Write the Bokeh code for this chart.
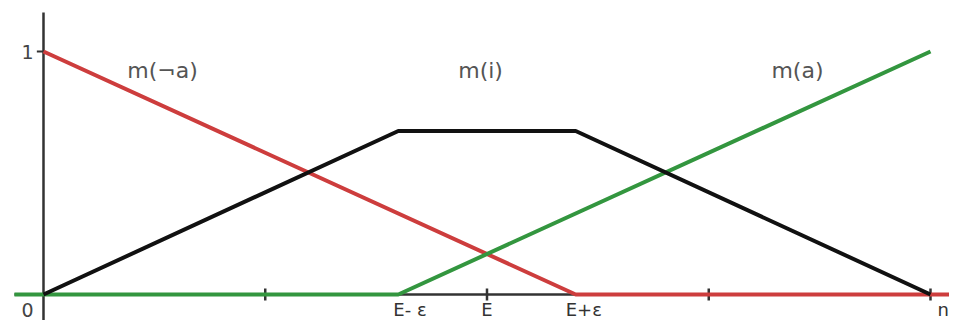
import math
from bokeh.plotting import figure
from bokeh.models import Range1d, ColumnDataSource
from bokeh.core.properties import value
from bokeh.embed import file_html
from bokeh.resources import INLINE

# ---- data ----
n = 4.0
E = 2.0
eps = 0.4
h = 0.673                      # plateau of m(i)
tick_values = [1, 2, 3, 4]
tick_labels = ["E- \u03b5", "E", "E+\u03b5", "n"]
tick_label_x = [E - eps, E, E + eps, n]

m_not_a_x = [0, E + eps, 4.3]
m_not_a_y = [1, 0, 0]
m_i_x = [0, E - eps, E + eps, n]
m_i_y = [0, h, h, 0]
m_a_x = [-0.131, E - eps, n]
m_a_y = [0, 0, 1]

series_names = ["m(\u00aca)", "m(i)", "m(a)"]

RED = "#cd3d3d"
GREEN = "#33963f"
BLACK = "#111111"
AXIS = "#333333"
FONT = "DejaVu Sans"

p = figure(width=949, height=320, output_backend="svg", toolbar_location=None,
           x_range=Range1d(-0.1939, 4.0857), y_range=Range1d(-0.107, 1.2099),
           min_border=0, outline_line_color=None)
p.axis.visible = False
p.grid.visible = False

# axes
p.segment(x0=[-0.131, 0], y0=[0, -0.2], x1=[4.3, 0], y1=[0, 1.1605],
          line_color=AXIS, line_width=2.5)
p.scatter(x=tick_values, y=[0] * len(tick_values), marker="dash", angle=math.pi / 2,
          size=12, line_color=AXIS, line_width=2.5)
p.segment(x0=[-0.03], y0=[1], x1=[0], y1=[1], line_color=AXIS, line_width=2)

# series
p.line(m_not_a_x, m_not_a_y, line_color=RED, line_width=4)
p.line(m_a_x, m_a_y, line_color=GREEN, line_width=4)
p.line(m_i_x, m_i_y, line_color=BLACK, line_width=4)

# tick labels
src = ColumnDataSource(dict(x=tick_label_x, y=[0] * 4, t=tick_labels,
                            xo=[-5, 0, -10, 7], al=["left", "center", "left", "left"]))
p.text(x="x", y="y", text="t", source=src, x_offset="xo", y_offset=15,
       text_align="al", text_baseline="middle", text_font=value(FONT),
       text_font_size="18px", text_color="#333333")
p.text(x=[0, 0], y=[1, 0], text=["1", "0"], x_offset=[-16, -16], y_offset=[0, 16],
       text_align="center", text_baseline="middle", text_font=value(FONT),
       text_font_size="19px", text_color="#444444")

# series labels
p.text(x=[0.537, 1.971, 3.40], y=[0.922] * 3, text=series_names,
       text_align="center", text_baseline="middle", text_font=value(FONT),
       text_font_size="22px", text_color="#555555")

open("out.html", "w").write(file_html(p, INLINE))
